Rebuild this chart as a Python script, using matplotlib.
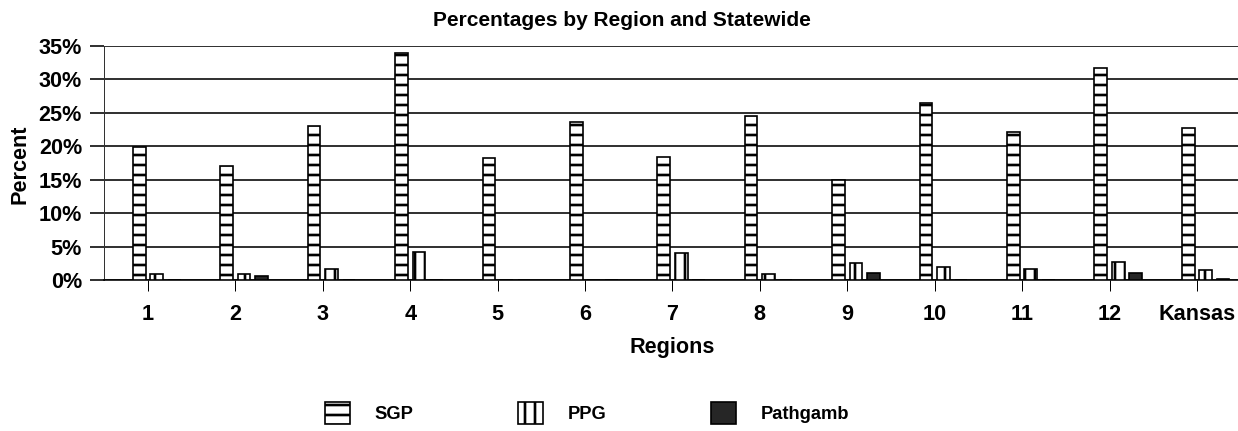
import matplotlib
matplotlib.use("Agg")
import matplotlib.pyplot as plt
import numpy as np

categories = ["1", "2", "3", "4", "5", "6", "7", "8", "9", "10", "11", "12", "Kansas"]
sgp = [19.9, 17.0, 23.0, 33.9, 18.3, 23.6, 18.4, 24.6, 15.0, 26.4, 22.1, 31.7, 22.7]
ppg = [0.95, 0.85, 1.65, 4.2, 0, 0, 4.0, 0.9, 2.6, 1.9, 1.6, 2.7, 1.5]
pathgamb = [0, 0.65, 0, 0, 0, 0, 0, 0, 1.05, 0, 0, 1.1, 0.15]
yticks = [0, 5, 10, 15, 20, 25, 30, 35]

DPI = 60
plt.rcParams['font.family'] = ['Liberation Sans', 'DejaVu Sans']
plt.rcParams['hatch.linewidth'] = 3.2
plt.rcParams['hatch.color'] = 'black'

fig = plt.figure(figsize=(1238 / DPI, 431 / DPI), dpi=DPI)
ax = fig.add_axes([104 / 1238, (431 - 280) / 431, 1 - 104 / 1238, (280 - 46) / 431])

x = np.arange(len(categories))
w = 0.145
edge_lw = 2.0
ax.bar(x - 0.1, sgp, w, facecolor='white', edgecolor='black', hatch='-',
       linewidth=edge_lw, label='SGP', zorder=3)
ax.bar(x + 0.1, ppg, w, facecolor='white', edgecolor='black', hatch='|',
       linewidth=edge_lw, label='PPG', zorder=3)
ax.bar(x + 0.3, pathgamb, w, facecolor='#262626', edgecolor='black',
       linewidth=edge_lw, label='Pathgamb', zorder=3)

ax.set_xlim(-0.503, 12.47)
ax.set_ylim(0, 35)
ax.set_yticks(yticks)
ax.set_yticklabels([f"{v}%" for v in yticks])
ax.set_xticks(x)
ax.set_xticklabels(categories)

ax.grid(axis='y', color='black', linewidth=1.9, zorder=1)
ax.set_axisbelow(True)
for s in ['top', 'right']:
    ax.spines[s].set_visible(False)
ax.spines['left'].set_linewidth(1.2)
ax.spines['left'].set_color('#333333')
ax.spines['bottom'].set_linewidth(1.9)

ax.tick_params(axis='y', direction='out', length=14 * 72 / DPI, width=1.9,
               pad=8 * 72 / DPI, labelsize=26)
ax.tick_params(axis='x', direction='out', length=11 * 72 / DPI, width=1.2,
               pad=13 * 72 / DPI, labelsize=26)
for lab in ax.get_xticklabels() + ax.get_yticklabels():
    lab.set_fontweight('bold')

fig.text(622 / 1238, (431 - 21) / 431, "Percentages by Region and Statewide",
         ha='center', va='center', fontsize=25, fontweight='bold')
fig.text(20 / 1238, (431 - 164) / 431, "Percent", rotation=90,
         ha='center', va='center', fontsize=26, fontweight='bold')
fig.text(672 / 1238, (431 - 348) / 431, "Regions",
         ha='center', va='center', fontsize=26, fontweight='bold')

fig.legend(loc='center', bbox_to_anchor=(587 / 1238, (431 - 413) / 431),
           ncol=3, frameon=False, prop={'size': 22, 'weight': 'bold'},
           handlelength=1.35, handleheight=1.4, handletextpad=1.35,
           columnspacing=5.7)

fig.savefig("out.png", dpi=DPI)
